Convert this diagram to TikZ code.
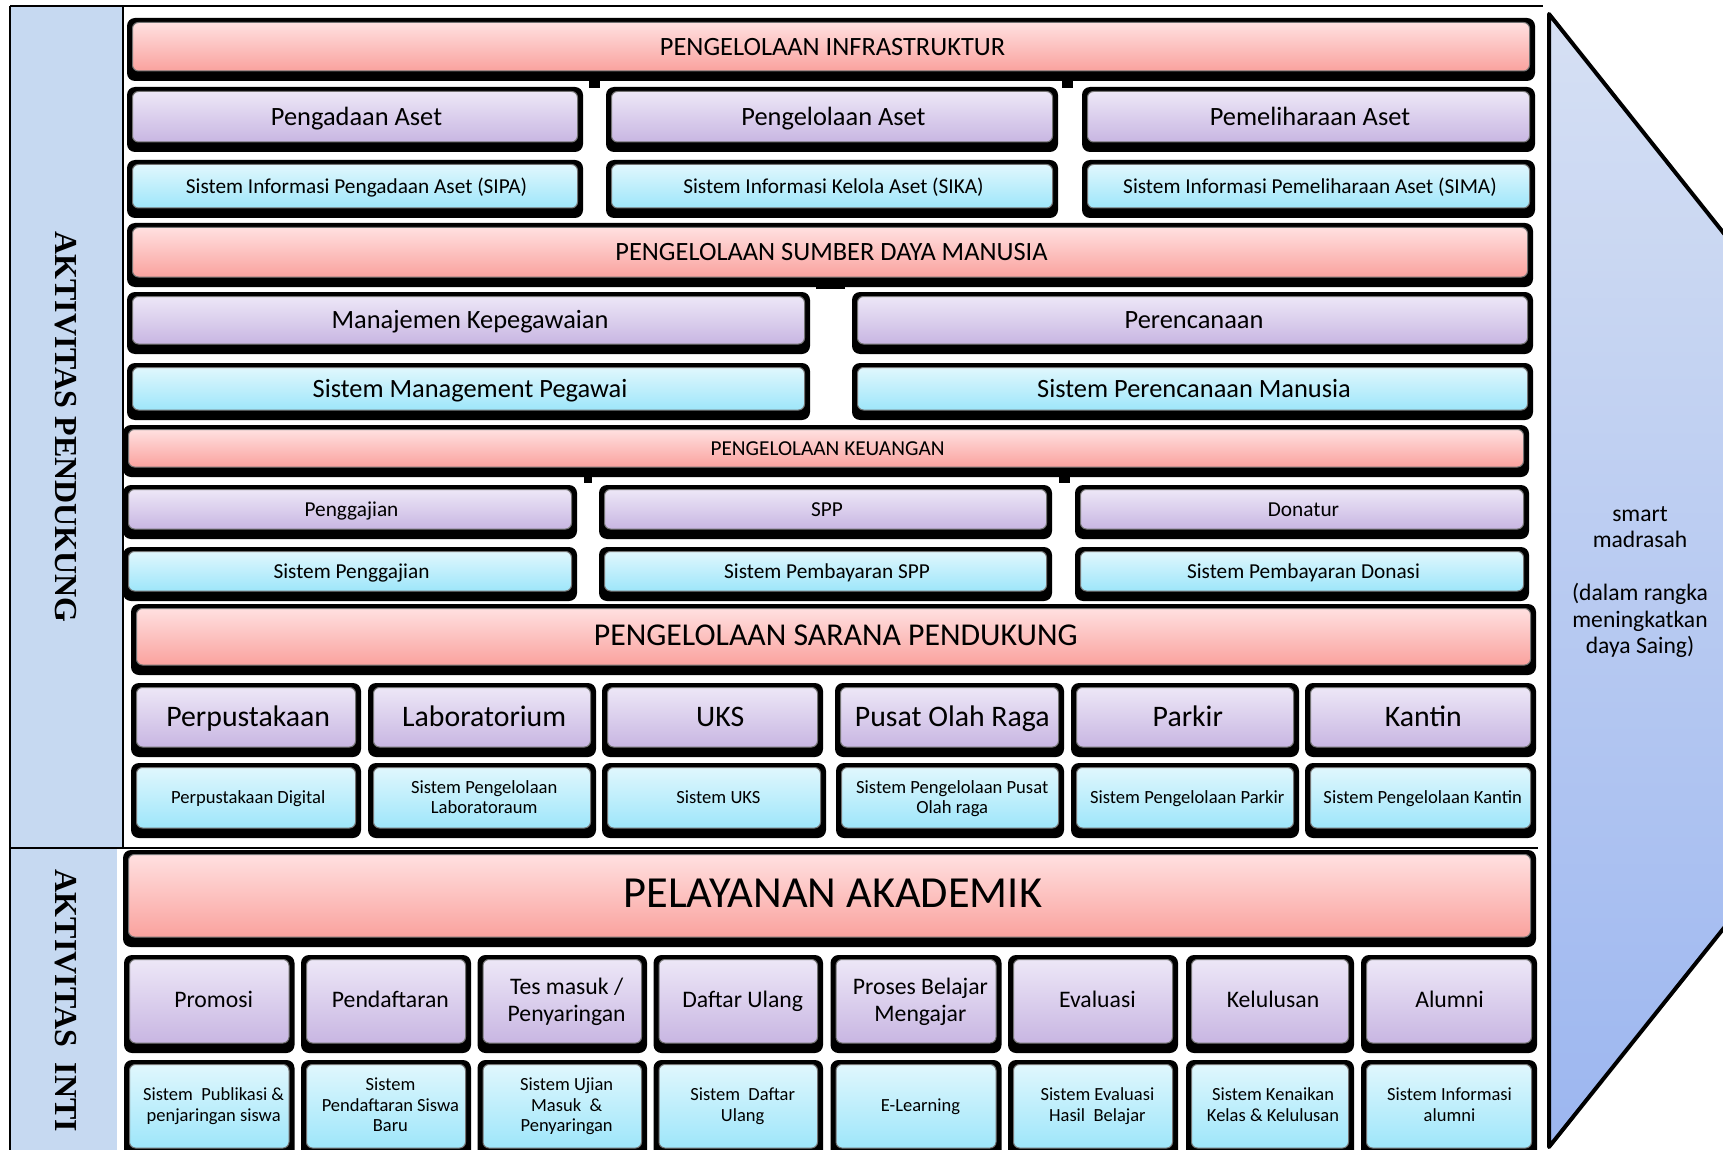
\documentclass[tikz,border=0pt]{standalone}
\usepackage{fontspec}
\setmainfont{Carlito}
\newfontfamily\lblfamily{Liberation Serif}
\usetikzlibrary{calc}
\definecolor{bandblue}{RGB}{198,217,241}
\definecolor{redtop}{RGB}{255,224,224}
\definecolor{redbot}{RGB}{250,162,158}
\definecolor{purtop}{RGB}{237,231,247}
\definecolor{purbot}{RGB}{200,182,226}
\definecolor{cyntop}{RGB}{224,247,253}
\definecolor{cynbot}{RGB}{158,230,250}
\definecolor{arrtop}{RGB}{214,224,243}
\definecolor{arrbot}{RGB}{156,182,240}
\newcommand{\fsA}{\fontsize{13.2pt}{15pt}\selectfont}
\newcommand{\fsB}{\fontsize{10.65pt}{12pt}\selectfont}
\newcommand{\fsC}{\fontsize{15.9pt}{18pt}\selectfont}
\newcommand{\fsD}{\fontsize{14.9pt}{17pt}\selectfont}
\newcommand{\fsE}{\fontsize{9.3pt}{9.9pt}\selectfont}
\newcommand{\fsF}{\fontsize{22.2pt}{25pt}\selectfont}
\newcommand{\fsG}{\fontsize{11.85pt}{13.2pt}\selectfont}
\newcommand{\fsH}{\fontsize{9.25pt}{10.25pt}\selectfont}
\newcommand{\fsI}{\fontsize{11.8pt}{13.25pt}\selectfont}
\newcommand{\fsL}{\lblfamily\bfseries\fontsize{16pt}{18pt}\selectfont}
\newcommand{\topstrut}{\rule{0pt}{0.94em}}
\newcommand{\botstrut}{\rule[-0.3em]{0pt}{0.3em}}
\tikzset{
  boxbase/.style={rounded corners=3pt, draw=black!55, line width=0.5pt, inner sep=0pt},
  redbx/.style={boxbase, top color=redtop, bottom color=redbot},
  purbx/.style={boxbase, top color=purtop, bottom color=purbot},
  cynbx/.style={boxbase, top color=cyntop, bottom color=cynbot},
  boxtext/.style={inner sep=0pt, align=center, text=black},
  shadowbx/.style={fill=black, rounded corners=4pt},
  vlabel/.style={rotate=-90, font=\fsL, text=black, inner sep=0pt},
  framel/.style={line width=1pt, draw=black},
  tabmark/.style={fill=black}
}
\def\txdx{1.5}
\def\txdy{0}
% #1 name, #2 style, #3 x0, #4 y0, #5 x1, #6 y1, #7 font, #8 text
\newcommand{\drawbx}[8]{%
  \path[shadowbx] (#3,#4) rectangle (#5,#6);
  \node[#2, minimum width={(#5-#3-11)*0.5pt}, minimum height={(#6-#4-14.5)*0.5pt}]
    (#1) at ({(#3+#5)/2},{(#4+#6-5.5)/2}) {};
  \node[boxtext, font=#7] (#1-t) at ([xshift={\txdx*0.5pt}, yshift={-\txdy*0.5pt}]#1.center) {\topstrut#8\botstrut};
}
\begin{document}
\begin{tikzpicture}[x=0.5pt,y=-0.5pt]
\useasboundingbox (0,0) rectangle (1723,1150);
\clip (0,0) rectangle (1723,1150);
\fill[white] (0,0) rectangle (1723,1150);
% left band
\fill[bandblue] (10,6) rectangle (123,848);
\fill[bandblue] (10,848) rectangle (117,1150);
\draw[framel] (10,6) -- (1543,6);
\draw[framel] (10,6) -- (10,1150);
\draw[line width=0.7pt] (123,6) -- (123,848);
\draw[framel] (10,848) -- (1538,848);
\node[vlabel] (pendukung) at (66,427) {AKTIVITAS PENDUKUNG};
\node[vlabel] (inti) at (66,1001) {AKTIVITAS\ \ INTI};
% right arrow
\path[top color=arrtop, bottom color=arrbot, draw=black, line width=2pt, line join=round]
  (1549,14) -- (2001,581) -- (1549,1147) -- cycle;
\node[font=\fsI, align=center, text=black] (goal) at (1640,582)
  {smart\\madrasah\\\mbox{}\\(dalam rangka\\meningkatkan\\daya Saing)};
% small tabs
\path[tabmark] (589,80) rectangle (600,88);
\path[tabmark] (1062,80) rectangle (1073,88);
\path[tabmark] (816,283) rectangle (845,289);
\path[tabmark] (584,477) rectangle (592,483);
\path[tabmark] (1059,477) rectangle (1070,483);
% row 1-3
\drawbx{infra}{redbx}{127}{18}{1535}{81}{\fsA}{PENGELOLAAN INFRASTRUKTUR}
\drawbx{pengadaan}{purbx}{127}{87}{583}{152}{\fsA}{Pengadaan Aset}
\drawbx{pengelolaan}{purbx}{606}{87}{1058}{152}{\fsA}{Pengelolaan Aset}
\drawbx{pemeliharaan}{purbx}{1082}{87}{1535}{152}{\fsA}{Pemeliharaan Aset}
\drawbx{sipa}{cynbx}{127}{160}{583}{218}{\fsB}{Sistem Informasi Pengadaan Aset (SIPA)}
\drawbx{sika}{cynbx}{606}{160}{1058}{218}{\fsB}{Sistem Informasi Kelola Aset (SIKA)}
\drawbx{sima}{cynbx}{1082}{160}{1535}{218}{\fsB}{Sistem Informasi Pemeliharaan Aset (SIMA)}
% row 4-6
\drawbx{sdm}{redbx}{127}{223}{1533}{287}{\fsA}{PENGELOLAAN SUMBER DAYA MANUSIA}
\drawbx{kepeg}{purbx}{127}{292}{810}{354}{\fsA}{Manajemen Kepegawaian}
\drawbx{renc}{purbx}{852}{292}{1533}{354}{\fsA}{Perencanaan}
\drawbx{smp}{cynbx}{127}{363}{810}{420}{\fsA}{Sistem Management Pegawai}
\drawbx{spm}{cynbx}{852}{363}{1533}{420}{\fsA}{Sistem Perencanaan Manusia}
% row 7-9
\drawbx{keu}{redbx}{123}{425}{1529}{477}{\fsB}{PENGELOLAAN KEUANGAN}
\drawbx{gaji}{purbx}{123}{485}{577}{539}{\fsB}{Penggajian}
\drawbx{spp}{purbx}{599}{485}{1052}{539}{\fsB}{SPP}
\drawbx{donatur}{purbx}{1075}{485}{1529}{539}{\fsB}{Donatur}
\drawbx{sgaji}{cynbx}{123}{547}{577}{601}{\fsB}{Sistem Penggajian}
\drawbx{sspp}{cynbx}{599}{547}{1052}{601}{\fsB}{Sistem Pembayaran SPP}
\drawbx{sdonasi}{cynbx}{1075}{547}{1529}{601}{\fsB}{Sistem Pembayaran Donasi}
% row 10-12
\def\txdy{-1}
\def\txdx{2.2}
\drawbx{sarana}{redbx}{131}{604}{1536}{675}{\fsC}{PENGELOLAAN SARANA PENDUKUNG}
\def\txdy{0}
\drawbx{perpus}{purbx}{131}{683}{361}{757}{\fsD}{Perpustakaan}
\drawbx{lab}{purbx}{368}{683}{596}{757}{\fsD}{Laboratorium}
\def\txdx{7.7}
\drawbx{uks}{purbx}{602}{683}{823}{757}{\fsD}{UKS}
\def\txdx{2.8}
\drawbx{olahraga}{purbx}{835}{683}{1064}{757}{\fsD}{Pusat Olah Raga}
\drawbx{parkir}{purbx}{1071}{683}{1299}{757}{\fsD}{Parkir}
\drawbx{kantin}{purbx}{1305}{683}{1536}{757}{\fsD}{Kantin}
\def\txdx{2.2}
\drawbx{sperpus}{cynbx}{131}{763}{361}{838}{\fsE}{Perpustakaan Digital}
\drawbx{slab}{cynbx}{368}{763}{596}{838}{\fsE}{Sistem Pengelolaan\\Laboratoraum}
\def\txdx{4.4}
\drawbx{suks}{cynbx}{602}{763}{826}{838}{\fsE}{Sistem UKS}
\def\txdx{2.2}
\drawbx{solahraga}{cynbx}{836}{763}{1064}{838}{\fsE}{Sistem Pengelolaan Pusat\\Olah raga}
\drawbx{sparkir}{cynbx}{1071}{763}{1299}{838}{\fsE}{Sistem Pengelolaan Parkir}
\drawbx{skantin}{cynbx}{1305}{763}{1536}{838}{\fsE}{Sistem Pengelolaan Kantin}
% row 13-15
\def\txdy{-2.2}
\def\txdx{3.3}
\drawbx{akademik}{redbx}{123}{850}{1536}{947}{\fsF}{PELAYANAN AKADEMIK}
\def\txdy{-1}
\def\txdx{4.4}
\drawbx{promosi}{purbx}{124}{955}{294.5}{1053}{\fsG}{Promosi}
\drawbx{daftar}{purbx}{301}{955}{471}{1053}{\fsG}{Pendaftaran}
\drawbx{tes}{purbx}{477.5}{955}{647}{1053}{\fsG}{Tes masuk /\\Penyaringan}
\drawbx{ulang}{purbx}{653.5}{955}{823}{1053}{\fsG}{Daftar Ulang}
\drawbx{pbm}{purbx}{830.5}{955}{1001.5}{1053}{\fsG}{Proses Belajar\\Mengajar}
\drawbx{evaluasi}{purbx}{1008}{955}{1178}{1053}{\fsG}{Evaluasi}
\def\txdx{3}
\drawbx{lulus}{purbx}{1186}{955}{1354}{1053}{\fsG}{Kelulusan}
\def\txdx{0.5}
\drawbx{alumni}{purbx}{1361}{955}{1537}{1053}{\fsG}{Alumni}
\def\txdy{-1}
\def\txdx{4.4}
\drawbx{spromosi}{cynbx}{124}{1060}{294.5}{1158}{\fsH}{Sistem\ \ Publikasi \&\\penjaringan siswa}
\drawbx{sdaftar}{cynbx}{301}{1060}{471}{1158}{\fsH}{Sistem\\Pendaftaran Siswa\\Baru}
\drawbx{stes}{cynbx}{477.5}{1060}{647}{1158}{\fsH}{Sistem Ujian\\Masuk\ \ \&\\Penyaringan}
\drawbx{sulang}{cynbx}{653.5}{1060}{823}{1158}{\fsH}{Sistem\ \ Daftar\\Ulang}
\drawbx{spbm}{cynbx}{830.5}{1060}{1001.5}{1158}{\fsH}{E-Learning}
\drawbx{sevaluasi}{cynbx}{1008}{1060}{1178}{1158}{\fsH}{Sistem Evaluasi\\Hasil\ \ Belajar}
\def\txdx{3}
\drawbx{slulus}{cynbx}{1186}{1060}{1354}{1158}{\fsH}{Sistem Kenaikan\\Kelas \& Kelulusan}
\def\txdx{0.5}
\drawbx{salumni}{cynbx}{1361}{1060}{1537}{1158}{\fsH}{Sistem Informasi\\alumni}
\end{tikzpicture}
\end{document}
